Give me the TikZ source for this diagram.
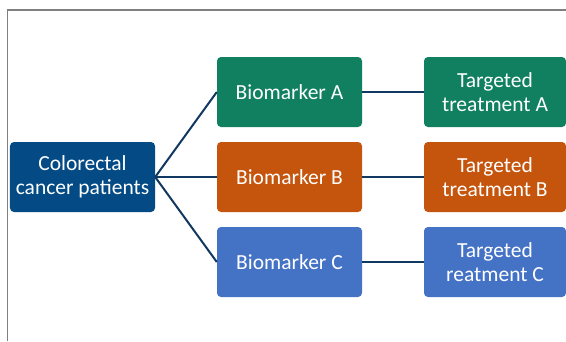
\documentclass[tikz,border=0pt]{standalone}
\usepackage{fontspec}
\setmainfont{Carlito}
\definecolor{navy}{RGB}{4,75,134}
\definecolor{tgreen}{RGB}{16,128,96}
\definecolor{torange}{RGB}{197,84,12}
\definecolor{tblue}{RGB}{68,114,196}
\definecolor{linkc}{RGB}{16,56,96}
\definecolor{framec}{RGB}{128,128,128}
\begin{document}
\begin{tikzpicture}[x=1bp,y=-1bp,
  box/.style={rectangle, rounded corners=4bp, minimum width=145bp, minimum height=70bp,
    text=white, align=center, inner sep=0pt, font=\fontsize{21.5bp}{24bp}\selectfont},
  tbox/.style={box, minimum width=142bp},
  link/.style={draw=linkc, line width=2bp}]
\useasboundingbox (0,0) rectangle (566,341);
\draw[framec, line width=1.6bp] (7.5,341) -- (7.5,10) -- (566,10);
\node[box, fill=navy] (crc) at (82.5,177) {Colorectal\\cancer patients};
\node[box, fill=tgreen] (ba) at (289.5,92) {Biomarker A};
\node[box, fill=torange] (bb) at (289.5,177) {Biomarker B};
\node[box, fill=tblue] (bc) at (289.5,262) {Biomarker C};
\node[tbox, fill=tgreen] (ta) at (495,92) {Targeted\\treatment A};
\node[tbox, fill=torange] (tb) at (495,177) {Targeted\\treatment B};
\node[tbox, fill=tblue] (tc) at (495,262) {Targeted\\reatment C};
\draw[link] (crc.east) -- (ba.west);
\draw[link] (crc.east) -- (bb.west);
\draw[link] (crc.east) -- (bc.west);
\draw[link] (ba.east) -- (ta.west);
\draw[link] (bb.east) -- (tb.west);
\draw[link] (bc.east) -- (tc.west);
\end{tikzpicture}
\end{document}
